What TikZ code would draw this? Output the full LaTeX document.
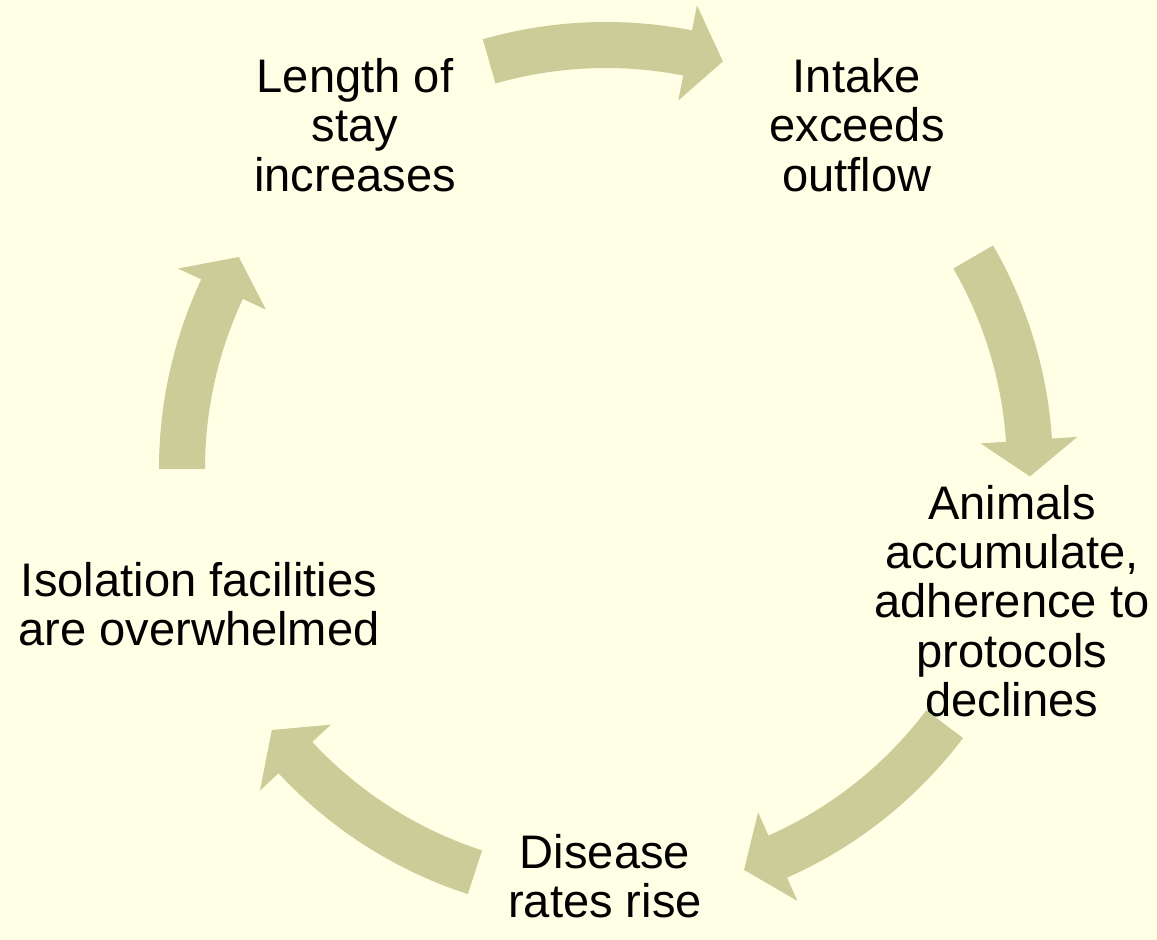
\documentclass[tikz,border=0pt]{standalone}
\usepackage{fontspec}
\setmainfont{Liberation Sans}
\usetikzlibrary{positioning}
\definecolor{bgyellow}{HTML}{FFFFE6}
\definecolor{arrowolive}{HTML}{CCCC99}
\tikzset{
    stage/.style={
    align=center,font=\fontsize{26.8}{28}\selectfont,text=black,inner sep=0pt
    },
    cyclearrow/.style={
    fill=arrowolive,draw=none
    },
}
% radii of the ring: outer, inner, head outer, head inner, middle; head length in degrees
\def\ro{8.94}
\def\ri{8.02}
\def\rh{9.45}
\def\rl{7.51}
\def\rr{8.48}
\def\hd{4.9}
\newcommand{\cyclearc}[2]{%
  \fill[cyclearrow] (#1:\ro) arc[start angle=#1,end angle=#2+\hd,radius=\ro]
    -- (#2+\hd:\rh) -- (#2:\rr) -- (#2+\hd:\rl) -- (#2+\hd:\ri)
    arc[start angle=#2+\hd,end angle=#1,radius=\ri] -- cycle;}

\begin{document}
\begin{tikzpicture}
   \fill[bgyellow] (0,0) rectangle (23.14,18.8);
   \useasboundingbox (0,0) rectangle (23.14,18.8);

   \node[stage] (length) at (7.10,16.30) {Length of\\stay\\increases};
   \node[stage] (intake) at (17.14,16.30) {Intake\\exceeds\\outflow};
   \node[stage] (animals) at (20.24,6.78) {Animals\\accumulate,\\adherence to\\protocols\\declines};
   \node[stage] (disease) at (12.10,1.28) {Disease\\rates rise};
   \node[stage] (isolation) at (3.98,6.72) {Isolation facilities\\are overwhelmed};

   \coordinate (hub) at (12.12,9.42);
   \begin{scope}[shift={(hub)}]
     \cyclearc{106}{74}
     \cyclearc{30}{-1}
     \cyclearc{-37}{-71}
     \cyclearc{-108}{-142}
     \cyclearc{180}{150}
   \end{scope}
\end{tikzpicture}
\end{document}
